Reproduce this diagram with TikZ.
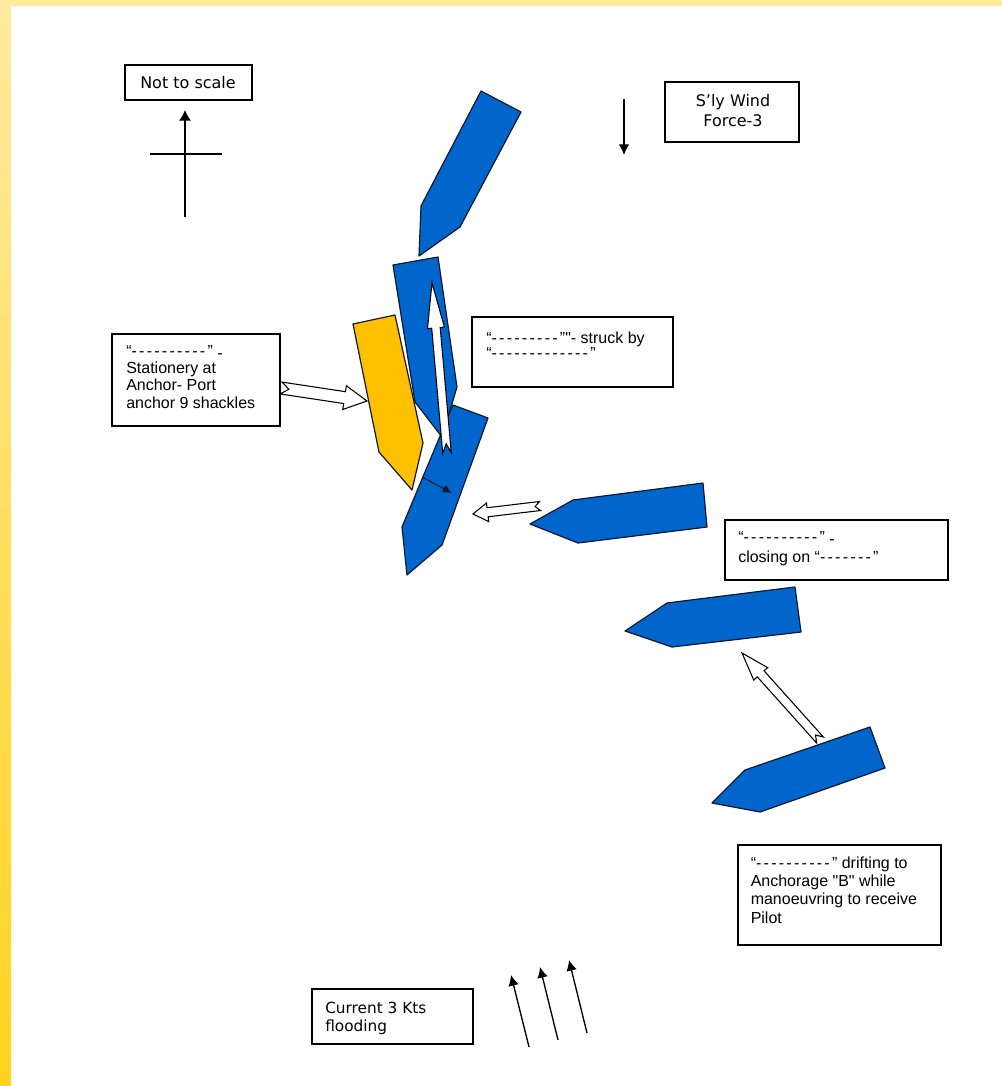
\documentclass[tikz,border=0pt]{standalone}
\usepackage{fontspec}
\setmainfont{Liberation Sans}
\newfontfamily\verd{DejaVu Sans}
\usetikzlibrary{calc,arrows.meta,fit}
\definecolor{shipblue}{RGB}{0,102,204}
\definecolor{shipgold}{RGB}{255,192,0}
\definecolor{edgecol}{RGB}{15,25,45}
\definecolor{bordlight}{RGB}{255,234,160}
\definecolor{borddark}{RGB}{255,211,30}
\newcommand\hy{-\kern1.7pt}
\newcommand\lowdash{\raisebox{-1.5pt}{-}}
\newcommand\blockarr[6]{%
  \coordinate (bh) at ($(#2)!#5!(#1)$);
  \coordinate (bn) at ($(#1)!#6!(#2)$);
  \draw[hollow] (#2) -- ($(bh)!#4!90:(#2)$) -- ($(bh)!#3!90:(#2)$)
    -- ($(#1)!#3!90:(#2)$) -- (bn) -- ($(#1)!#3!-90:(#2)$)
    -- ($(bh)!#3!-90:(#2)$) -- ($(bh)!#4!-90:(#2)$) -- cycle;}
\begin{document}
\begin{tikzpicture}[x=0.75pt,y=-0.75pt,
  ship/.style={draw=edgecol,line width=0.9pt,line join=round},
  blueship/.style={ship,fill=shipblue},
  goldship/.style={ship,fill=shipgold},
  hollow/.style={draw=black,fill=white,line width=0.8pt,line join=miter},
  box/.style={draw=black,line width=1.1pt,fill=white,inner sep=0pt},
  ptr/.style={line width=1pt},
  lbl/.style={inner sep=0pt,align=left,anchor=north west}
]
\useasboundingbox (0,0) rectangle (1002,1086);
\fill[white] (0,0) rectangle (1002,1086);
\shade[top color=bordlight,bottom color=borddark] (0,0) rectangle (11,1086);
\fill[bordlight] (0,0) rectangle (1002,6);

% ---- compass and "Not to scale"
\node[box,fit={(125,65) (252,100)}] (ntsbox) {};
\node[inner sep=0pt,anchor=base,font=\verd\fontsize{12}{14}\selectfont] (nts) at (188,88.3) {Not to scale};
\coordinate (cS) at (185,217); \coordinate (cN) at (185,110);
\coordinate (cW) at (150,154); \coordinate (cE) at (222,154);
\draw[ptr,-{Latex[length=8pt,width=9pt]}] (cS) -- (cN);
\draw[line width=1pt] (cW) -- (cE);

% ---- wind
\node[box,fit={(665,82) (799,142)}] (windbox) {};
\node[inner sep=0pt,align=center,anchor=north,
      font=\verd\fontsize{12}{15}\selectfont] (wind) at (733,94)
  {S’ly Wind\\Force-3};
\coordinate (wN) at (624,99); \coordinate (wS) at (624,155);
\draw[ptr,-{Latex[length=8pt,width=8pt]}] (wN) -- (wS);

% ---- ships
\draw[blueship] (481,91) -- (521,112) -- (460,227) -- (419,256) -- (421,206) -- cycle;
\draw[blueship] (393,265) -- (438,257) -- (457,387) -- (442,437) -- (415,402) -- cycle;
\draw[goldship] (353,324) -- (395,315) -- (423,443) -- (412,490) -- (379,452) -- cycle;
\draw[blueship] (453,405) -- (488,418) -- (442,545) -- (407,575) -- (402,527) -- cycle;
\draw[blueship] (530,524) -- (573,500) -- (703,483) -- (707,527) -- (578,543) -- cycle;
\draw[blueship] (625,631) -- (667,603) -- (795,587) -- (801,632) -- (672,647) -- cycle;
\draw[blueship] (712,803) -- (745,770) -- (870,727) -- (885,768) -- (760,812) -- cycle;

% ---- hollow notched arrows
\coordinate (a1s) at (447,453); \coordinate (a1t) at (432,283);
\blockarr{a1s}{a1t}{3.2pt}{6.4pt}{33.75pt}{7pt}
\coordinate (a2s) at (281,388); \coordinate (a2t) at (367,401);
\blockarr{a2s}{a2t}{4.5pt}{9pt}{17pt}{6pt}
\coordinate (a3s) at (540,506); \coordinate (a3t) at (473,514);
\blockarr{a3s}{a3t}{3.4pt}{7pt}{11pt}{3.75pt}
\coordinate (a4s) at (820,740); \coordinate (a4t) at (742,653);
\blockarr{a4s}{a4t}{3.4pt}{7pt}{21pt}{5pt}

% ---- small contact arrow
\coordinate (kS) at (422,477); \coordinate (kT) at (452,493);
\draw[draw=edgecol,line width=0.8pt,-{Latex[length=7pt,width=6.5pt]}] (kS) -- (kT);

% ---- text boxes
\node[box,fit={(472,317) (673,387)}] (strbox) {};
\node[lbl,font=\fontsize{12}{14}\selectfont] (str1) at (486,331.8)
  {“\hy\hy\hy\hy\hy\hy\hy\hy\hy”\textquotedbl- struck by};
\node[inner sep=0pt,anchor=base west,font=\fontsize{12}{14}\selectfont] (str2) at (486,358.5)
  {“\hy\hy\hy\hy\hy\hy\hy\hy\hy\hy\hy\hy\hy”};

\node[box,fit={(112,334) (280,426)}] (stabox) {};
\node[lbl,font=\fontsize{12}{12.9}\selectfont] (sta) at (126,345.3)
  {“\hy\hy\hy\hy\hy\hy\hy\hy\hy\hy” \lowdash\\Stationery at\\Anchor- Port\\anchor 9 shackles};

\node[box,fit={(725,520) (948,580)}] (clobox) {};
\node[lbl,font=\fontsize{12}{15}\selectfont] (clo) at (738,530.8)
  {“\hy\hy\hy\hy\hy\hy\hy\hy\hy\hy” \lowdash\\closing on “\hy\hy\hy\hy\hy\hy\hy”};

\node[box,fit={(738,845) (941,945)}] (drbox) {};
\node[lbl,font=\fontsize{12}{13.8}\selectfont] (dr) at (750.5,856.3)
  {“\hy\hy\hy\hy\hy\hy\hy\hy\hy\hy” drifting to\\Anchorage \textquotedbl B\textquotedbl{} while\\manoeuvring to receive\\Pilot};

\node[box,fit={(312,989) (473,1044)}] (curbox) {};
\node[lbl,font=\verd\fontsize{11.5}{13.3}\selectfont] (cur) at (325,1001.7)
  {Current 3 Kts\\flooding};

% ---- current arrows
\coordinate (c1s) at (529,1047); \coordinate (c1t) at (511,975);
\coordinate (c2s) at (558,1040); \coordinate (c2t) at (540,967);
\coordinate (c3s) at (587,1033); \coordinate (c3t) at (569,960);
\draw[ptr,-{Latex[length=8pt,width=8pt]}] (c1s) -- (c1t);
\draw[ptr,-{Latex[length=8pt,width=8pt]}] (c2s) -- (c2t);
\draw[ptr,-{Latex[length=8pt,width=8pt]}] (c3s) -- (c3t);
\end{tikzpicture}
\end{document}
